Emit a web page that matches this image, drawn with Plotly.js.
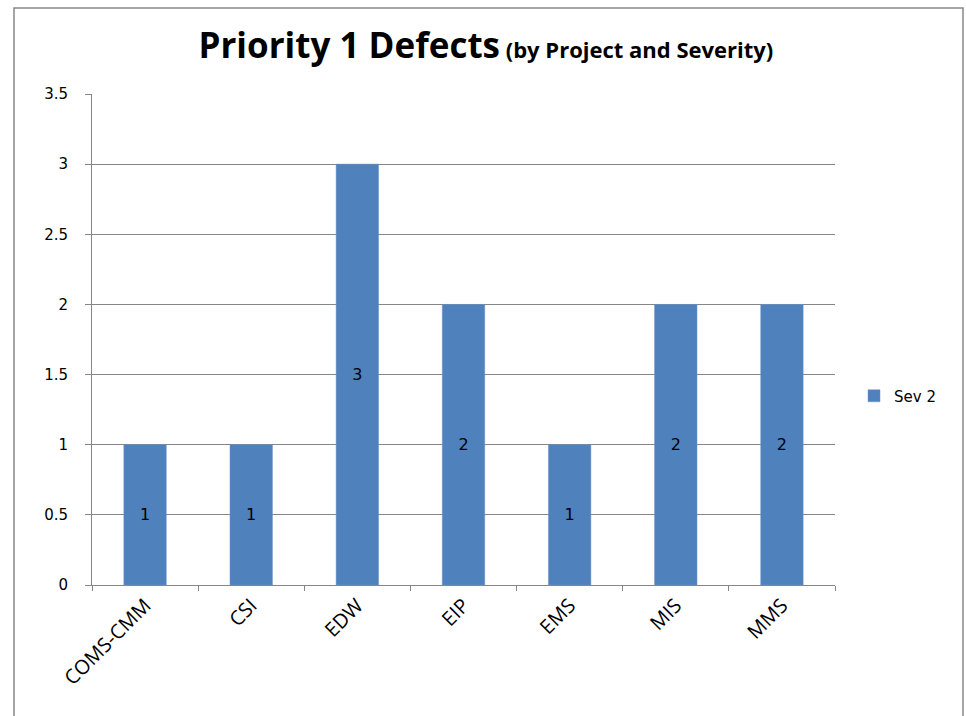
<!DOCTYPE html>
<html>
<head>
<meta charset="utf-8">
<script src="https://cdn.plot.ly/plotly-3.0.1.min.js"></script>
<style>
html,body{margin:0;padding:0;background:#fff;}
#chart{width:966px;height:716px;}
</style>
</head>
<body>
<div id="chart"></div>
<script>
const categories = ["COMS-CMM", "CSI", "EDW", "EIP", "EMS", "MIS", "MMS"];
const sev2 = [1, 1, 3, 2, 1, 2, 2];
const seriesName = "Sev 2";
const yTicks = [0, 0.5, 1, 1.5, 2, 2.5, 3, 3.5];

const trace = {
  type: "bar",
  x: categories,
  y: sev2,
  name: seriesName,
  text: sev2.map(String),
  textposition: "inside",
  insidetextanchor: "middle",
  textangle: 0,
  textfont: {family: "DejaVu Sans", size: 16, color: "#000"},
  marker: {color: "#4F81BD", line: {color: "#6E95C8", width: 0.5}},
  showlegend: true
};

const W = 743, H = 491;
const layout = {
  width: 966, height: 716,
  margin: {l: 92, r: 131, t: 94, b: 131},
  paper_bgcolor: "#fff",
  plot_bgcolor: "#fff",
  bargap: 0.6,
  uniformtext: {mode: false},
  title: {
    text: "<b>Priority 1 Defects</b><b><span style='font-size:22px'> (by Project and Severity)</span></b>",
    font: {family: "'Open Sans', sans-serif", size: 35, color: "#000"},
    x: 0.503, xanchor: "center",
    y: 1 - 46/716, yanchor: "middle", yref: "container"
  },
  xaxis: {
    type: "category",
    tickangle: -45,
    tickson: "boundaries",
    ticks: "outside", ticklen: 5, tickcolor: "#868686",
    showline: true, linecolor: "#868686", linewidth: 1,
    showgrid: false,
    tickfont: {family: "'Open Sans', sans-serif", size: 20, color: "#000"}
  },
  yaxis: {
    range: [0, 3.5],
    tickvals: yTicks,
    ticktext: yTicks.map(String),
    ticks: "outside", ticklen: 6, tickcolor: "#868686",
    ticklabelstandoff: 14,
    showline: true, linecolor: "#868686", linewidth: 1,
    showgrid: true, gridcolor: "#868686", gridwidth: 1,
    zeroline: false,
    tickfont: {family: "DejaVu Sans", size: 15, color: "#000"}
  },
  legend: {
    x: (854 - 92)/W, xanchor: "left",
    y: (585 - 396)/H, yanchor: "middle",
    font: {family: "DejaVu Sans", size: 15, color: "#000"},
    bgcolor: "rgba(0,0,0,0)"
  },
  shapes: [{
    type: "rect", xref: "paper", yref: "paper",
    x0: (14 - 92)/W, x1: (963 - 92)/W,
    y0: (585 - 730)/H, y1: (585 - 8)/H,
    line: {color: "#888888", width: 1.5},
    fillcolor: "rgba(0,0,0,0)"
  }]
};

Plotly.newPlot("chart", [trace], layout, {displayModeBar: false, staticPlot: true});
</script>
</body>
</html>
